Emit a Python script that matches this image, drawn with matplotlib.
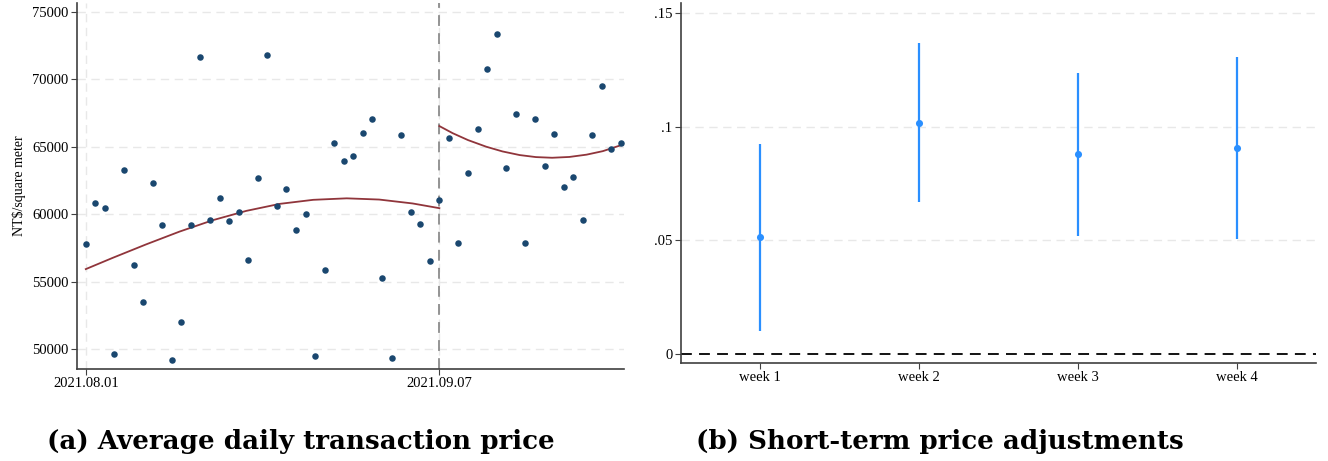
import numpy as np
import matplotlib
matplotlib.use("Agg")
import matplotlib.pyplot as plt

plt.rcParams['font.family'] = ['Liberation Serif', 'DejaVu Serif']

# panel (a): average daily price, day 0 = 2021.08.01
days = list(range(57))
price = [57800, 60800, 60500, 49600, 63300, 56200, 53500, 62300, 59200, 49200,
         52000, 59200, 71700, 59600, 61200, 59500, 60200, 56600, 62700, 71800,
         60600, 61900, 58800, 60000, 49500, 55900, 65300, 63950, 64300, 66000,
         67050, 55300, 49300, 65900, 60200, 59300, 56500, 61050, 65650, 57900,
         63050, 66350, 70750, 73350, 63400, 67450, 57850, 67100, 63550, 65950,
         62000, 62750, 59550, 65850, 69500, 64850, 65250]
cutoff = 37
xtick_labels = ['2021.08.01', '2021.09.07']

# quadratic fit lines
fit_pre_days = [0, 2.8, 6.3, 9.8, 13.3, 16.8, 20.3, 23.8, 27.3, 30.7, 34.2, 37]
fit_pre_vals = [55930, 56760, 57760, 58710, 59560, 60250, 60770, 61070, 61180,
                61090, 60800, 60450]
fit_post_days = [37, 38.4, 40, 41.9, 43.6, 45.4, 47.1, 48.8, 50.6, 52.4, 54.1,
                 56.3]
fit_post_vals = [66540, 66010, 65500, 65010, 64660, 64390, 64240, 64190, 64250,
                 64420, 64680, 65190]

# panel (b): weekly coefficients with CIs
weeks = ['week 1', 'week 2', 'week 3', 'week 4']
coef = [0.0514, 0.1018, 0.0879, 0.0907]
ci_low = [0.0103, 0.0669, 0.0520, 0.0505]
ci_high = [0.0923, 0.1368, 0.1237, 0.1308]

navy = '#1a476f'
maroon = '#90353b'
blue = '#2a8fff'
grid_c = '#e8e8e8'

fig = plt.figure(figsize=(13.28, 4.61), dpi=100)
W, H = 1328, 461
ax1 = fig.add_axes([76.7 / W, 1 - 369 / H, (624.3 - 76.7) / W, (369 - 3) / H])
ax2 = fig.add_axes([680.7 / W, 1 - 363 / H, (1316 - 680.7) / W, (363 - 3.3) / H])

# ---- left panel
ax1.scatter(days, price, s=22, color=navy, zorder=3, linewidths=0)
ax1.plot(fit_pre_days, fit_pre_vals, color=maroon, lw=1.3, zorder=2)
ax1.plot(fit_post_days, fit_post_vals, color=maroon, lw=1.3, zorder=2)
ax1.axvline(cutoff, color='#8c8c8c', lw=1.3, ls=(0, (6, 4)), zorder=1)

ax1.set_xlim(-0.95, 56.35)
ax1.set_ylim(48520, 75670)
ax1.set_yticks([50000, 55000, 60000, 65000, 70000, 75000])
ax1.set_xticks([0, cutoff])
ax1.set_xticklabels(xtick_labels)
ax1.set_ylabel('NT$/square meter', fontsize=10)
ax1.grid(True, color=grid_c, ls=(0, (6, 4)), lw=1)
ax1.set_axisbelow(True)

# ---- right panel
xs = np.arange(1, 5)
ax2.vlines(xs, ci_low, ci_high, color=blue, lw=1.6, zorder=2)
ax2.scatter(xs, coef, s=26, color=blue, zorder=3, linewidths=0)
ax2.axhline(0, color='black', lw=1.3, ls=(0, (6, 4)), zorder=1)
ax2.set_xlim(0.5, 4.5)
ax2.set_ylim(-0.004, 0.1544)
ax2.set_xticks(xs)
ax2.set_xticklabels(weeks)
ax2.set_yticks([0, 0.05, 0.1, 0.15])
ax2.set_yticklabels(['0', '.05', '.1', '.15'])
for y in [0.05, 0.1, 0.15]:
    ax2.axhline(y, color=grid_c, ls=(0, (6, 4)), lw=1, zorder=0)

for ax in (ax1, ax2):
    for s in ('top', 'right'):
        ax.spines[s].set_visible(False)
    for s in ('left', 'bottom'):
        ax.spines[s].set_color('#404040')
        ax.spines[s].set_linewidth(1.2)
    ax.tick_params(labelsize=10.5, length=4, color='#404040', pad=2)

fig.text(301 / W, 1 - 449 / H, '(a) Average daily transaction price',
         fontfamily='DejaVu Serif', fontweight='bold', fontsize=18.8,
         ha='center', va='baseline')
fig.text(940 / W, 1 - 449 / H, '(b) Short-term price adjustments',
         fontfamily='DejaVu Serif', fontweight='bold', fontsize=18.8,
         ha='center', va='baseline')

fig.savefig('out.png', dpi=100)
